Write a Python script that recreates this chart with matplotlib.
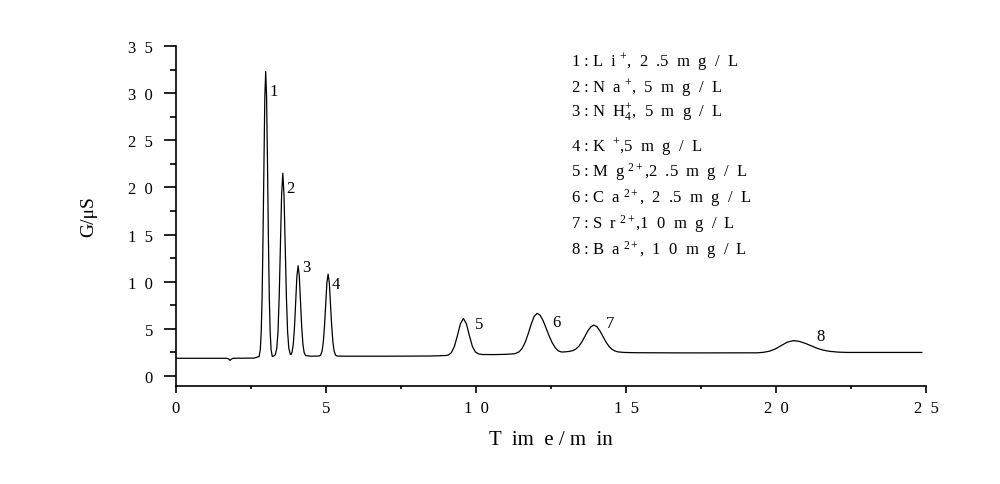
import matplotlib
matplotlib.use("Agg")
import matplotlib.pyplot as plt
from matplotlib.ticker import MultipleLocator, FixedLocator, FixedFormatter

plt.rcParams['font.family'] = ['Liberation Serif', 'DejaVu Serif']
plt.rcParams['mathtext.fontset'] = 'custom'
plt.rcParams['mathtext.rm'] = 'Liberation Serif'
plt.rcParams['mathtext.it'] = 'Liberation Serif:italic'

# chromatogram trace (time in min, conductivity in uS)
time = [0.0, 1.0, 1.70, 1.76, 1.80, 1.84, 1.90, 2.60, 2.77,
        2.81, 2.84, 2.87, 2.90, 2.93, 2.96, 2.99, 3.02, 3.05, 3.08, 3.11, 3.14, 3.17, 3.21, 3.27,
        3.31, 3.36, 3.40, 3.44, 3.48, 3.52, 3.56, 3.60, 3.64, 3.68, 3.72, 3.76, 3.81, 3.84,
        3.87, 3.91, 3.95, 3.99, 4.03, 4.07, 4.11, 4.15, 4.19, 4.23, 4.27, 4.32, 4.50, 4.77,
        4.82, 4.87, 4.91, 4.95, 4.99, 5.03, 5.07, 5.11, 5.15, 5.19, 5.23, 5.27, 5.32, 5.37,
        5.6, 7.0, 8.5, 8.98, 9.08, 9.18, 9.28, 9.38, 9.48, 9.58, 9.68, 9.78, 9.88, 9.98,
        10.08, 10.2, 10.6, 11.0,
        11.29, 11.44, 11.54, 11.64, 11.74, 11.84, 11.94, 12.04, 12.14, 12.24, 12.34, 12.44,
        12.54, 12.64, 12.74, 12.84, 12.94, 13.03,
        13.13, 13.23, 13.33, 13.43, 13.53, 13.63, 13.73, 13.83, 13.93, 14.03, 14.13, 14.23,
        14.33, 14.43, 14.53, 14.63, 14.73, 14.93, 15.3, 17.0, 19.0,
        19.38, 19.58, 19.78, 19.98, 20.18, 20.38, 20.58, 20.78, 20.98, 21.18, 21.38, 21.58,
        21.78, 22.08, 22.38, 24.86]
signal = [1.88, 1.88, 1.88, 1.80, 1.65, 1.78, 1.88, 1.90, 2.06,
          2.8, 4.6, 8.3, 14.6, 22.5, 29.5, 32.3, 29.5, 22.5, 14.6, 8.3, 4.6, 2.8, 2.06, 2.15,
          2.25, 2.95, 4.7, 8.4, 13.9, 19.2, 21.5, 19.2, 13.9, 8.4, 4.7, 2.95, 2.3, 2.3,
          2.55, 3.4, 5.2, 7.9, 10.6, 11.7, 10.6, 7.9, 5.2, 3.4, 2.5, 2.17, 2.1, 2.12,
          2.21, 2.65, 3.6, 5.3, 7.7, 9.9, 10.8, 9.9, 7.7, 5.3, 3.6, 2.65, 2.21, 2.12,
          2.1, 2.1, 2.12, 2.17, 2.23, 2.48, 3.13, 4.28, 5.54, 6.1, 5.54, 4.28, 3.13, 2.55,
          2.35, 2.28, 2.27, 2.3,
          2.36, 2.57, 2.94, 3.57, 4.48, 5.5, 6.33, 6.65, 6.44, 5.85, 5.06, 4.24,
          3.53, 3.0, 2.67, 2.55, 2.55, 2.58,
          2.62, 2.7, 2.86, 3.16, 3.62, 4.2, 4.79, 5.23, 5.4, 5.23, 4.79, 4.2,
          3.62, 3.15, 2.84, 2.66, 2.56, 2.5, 2.47, 2.45, 2.45,
          2.46, 2.51, 2.63, 2.87, 3.24, 3.6, 3.75, 3.67, 3.46, 3.19, 2.93, 2.74,
          2.62, 2.53, 2.5, 2.5]

# peak numbers and where they are written
peak_ids = ['1', '2', '3', '4', '5', '6', '7', '8']
peak_label_t = [3.24, 3.80, 4.36, 5.33, 10.11, 12.67, 14.47, 21.47]
peak_label_y = [30.25, 19.9, 11.6, 9.75, 5.5, 5.75, 5.6, 4.27]

# ion list
ions = [r'L  i $^{+}$', r'N  a $^{+}$', r'N  H$_{4}^{+}$', r'K  $^{+}$',
        r'M  g $^{2+}$', r'C  a $^{2+}$', r'S  r $^{2+}$', r'B  a $^{2+}$']
concs = [',  2  .5  m  g  /  L', ',  5  m  g  /  L', ',  5  m  g  /  L', ',5  m  g  /  L',
         ',2  .5  m  g  /  L', ',  2  .5  m  g  /  L', ',1  0  m  g  /  L', ',  1  0  m  g  /  L']

xticks = [0, 5, 10, 15, 20, 25]
xtick_labels = ['0', '5', '1  0', '1  5', '2  0', '2  5']
yticks = [0, 5, 10, 15, 20, 25, 30, 35]
ytick_labels = ['0', '5', '1  0', '1  5', '2  0', '2  5', '3  0', '3  5']

fig = plt.figure(figsize=(10, 4.85), dpi=100)
ax = fig.add_axes([0.176, 1 - 387 / 485, 0.75, 340 / 485])

ax.plot(time, signal, color='black', linewidth=0.9)

for pid, tx, ty in zip(peak_ids, peak_label_t, peak_label_y):
    ax.text(tx, ty, pid, fontsize=12, ha='center', va='center')

legend_y = [32.98, 30.15, 27.54, 23.89, 21.24, 18.53, 15.69, 12.94]
for i, (ion, conc) in enumerate(zip(ions, concs)):
    ax.text(13.17, legend_y[i], f'{i + 1} : ' + ion + conc, fontsize=12,
            ha='left', va='baseline')

ax.set_xlim(0, 25)
ax.set_ylim(-1.06, 35)
ax.spines['top'].set_visible(False)
ax.spines['right'].set_visible(False)
for s in ['left', 'bottom']:
    ax.spines[s].set_linewidth(1.2)

ax.xaxis.set_major_locator(FixedLocator(xticks))
ax.xaxis.set_major_formatter(FixedFormatter(xtick_labels))
ax.yaxis.set_major_locator(FixedLocator(yticks))
ax.yaxis.set_major_formatter(FixedFormatter(ytick_labels))
ax.xaxis.set_minor_locator(MultipleLocator(2.5))
ax.yaxis.set_minor_locator(MultipleLocator(2.5))

ax.tick_params(axis='x', which='major', direction='out', length=5, width=1.2,
               labelsize=12, pad=5)
ax.tick_params(axis='x', which='minor', direction='out', length=2.5, width=1.2)
ax.tick_params(axis='y', which='major', direction='out', length=8.5, width=1.2,
               labelsize=12, pad=8)
ax.tick_params(axis='y', which='minor', direction='out', length=4.3, width=1.2)

ax.set_xlabel('T  im  e / m  in', fontsize=15, labelpad=10)
ax.set_ylabel('G/μS', fontsize=14, labelpad=22)

fig.savefig('out.png', dpi=100)
